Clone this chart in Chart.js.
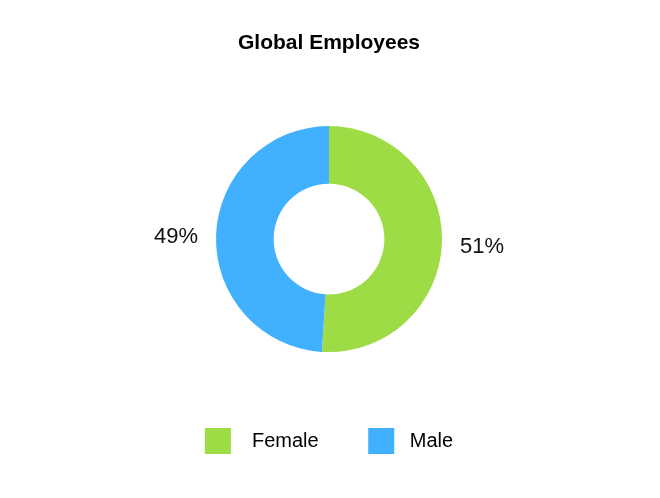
<!DOCTYPE html>
<html>
<head>
<meta charset="utf-8">
<script src="https://cdn.jsdelivr.net/npm/chart.js@4.4.0/dist/chart.umd.min.js"></script>
<style>
    html, body { margin: 0; padding: 0; background: #ffffff; }
    #chartBox { width: 660px; height: 498px; }
</style>
</head>
<body>
<div id="chartBox"><canvas id="donut"></canvas></div>
<script>
// chart values
var categories = ['Female', 'Male'];
var shares = [51, 49];
var sliceColors = ['#9edc46', '#40b0ff'];
var chartTitle = 'Global Employees';

// percent labels outside the ring
var outsideLabels = {
    id: 'outsideLabels',
    afterDatasetsDraw(chart) {
        var ctx = chart.ctx;
        var meta = chart.getDatasetMeta(0);
        var total = shares.reduce(function (a, b) { return a + b; }, 0);
        ctx.save();
        ctx.font = '22px "Liberation Sans", Arial, sans-serif';
        ctx.fillStyle = '#111111';
        ctx.textAlign = 'center';
        ctx.textBaseline = 'middle';
        meta.data.forEach(function (arc, i) {
            var mid = (arc.startAngle + arc.endAngle) / 2;
            var r = arc.outerRadius + 40;
            var x = arc.x + Math.cos(mid) * r;
            var y = arc.y + Math.sin(mid) * r + 3;
            ctx.fillText(Math.round(shares[i] / total * 100) + '%', x, y);
        });
        ctx.restore();
    }
};

var ctx = document.getElementById('donut').getContext('2d');
new Chart(ctx, {
    type: 'doughnut',
    data: {
        labels: categories,
        datasets: [{
            data: shares,
            backgroundColor: sliceColors,
            borderWidth: 0,
            radius: 113,
            cutout: '49%'
        }]
    },
    options: {
        responsive: true,
        maintainAspectRatio: false,
        animation: false,
        layout: { padding: { left: 0, right: 2, top: 0, bottom: 34 } },
        plugins: {
            title: {
                display: true,
                text: chartTitle,
                color: '#000000',
                font: { family: '"Liberation Sans", Arial, sans-serif', size: 21, weight: 'bold' },
                padding: { top: 31, bottom: 38 }
            },
            legend: {
                position: 'bottom',
                labels: {
                    color: '#000000',
                    boxWidth: 26,
                    boxHeight: 26,
                    padding: 44,
                    font: { family: '"Liberation Sans", Arial, sans-serif', size: 20 },
                    generateLabels: function (chart) {
                        return categories.map(function (name, i) {
                            return {
                                text: i === 0 ? '  ' + name + ' ' : ' ' + name,
                                fillStyle: sliceColors[i],
                                strokeStyle: sliceColors[i],
                                lineWidth: 0,
                                hidden: false,
                                index: i
                            };
                        });
                    }
                }
            },
            tooltip: { enabled: false }
        }
    },
    plugins: [outsideLabels]
});
</script>
</body>
</html>
